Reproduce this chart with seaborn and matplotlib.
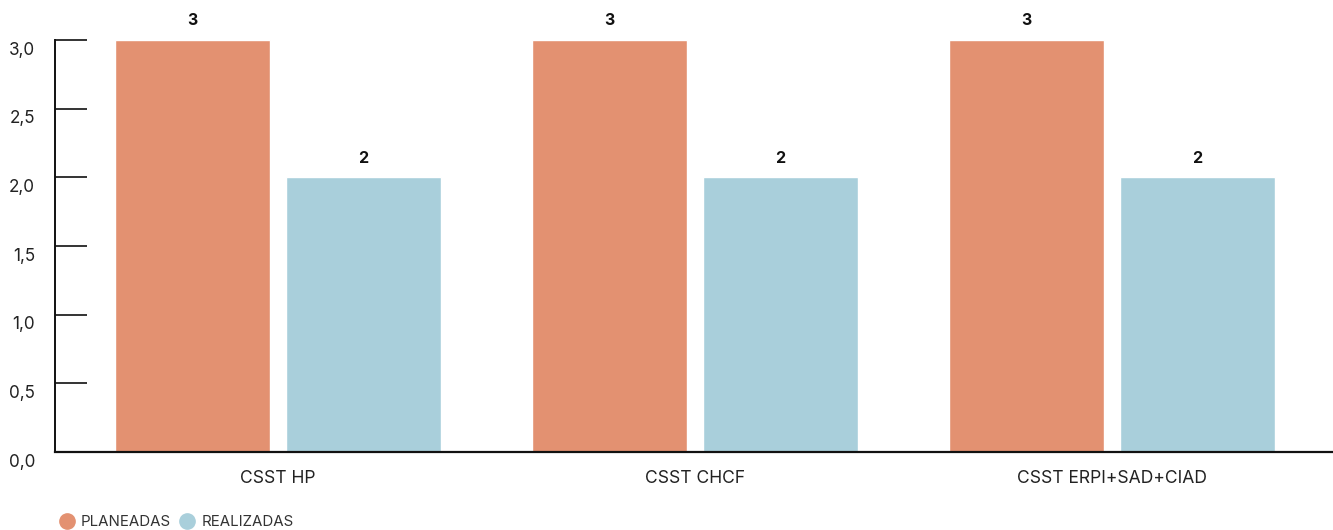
import matplotlib
matplotlib.use("Agg")
import matplotlib.pyplot as plt
import seaborn as sns
import pandas as pd
from matplotlib.lines import Line2D
import matplotlib.transforms as mtransforms

categories = ["CSST HP", "CSST CHCF", "CSST ERPI+SAD+CIAD"]
series_names = ["PLANEADAS", "REALIZADAS"]
planeadas = [3, 3, 3]
realizadas = [2, 2, 2]
y_ticks = [0.0, 0.5, 1.0, 1.5, 2.0, 2.5, 3.0]
y_tick_labels = ["0,0", "0,5", "1,0", "1,5", "2,0", "2,5", "3,0"]

colors = ["#E39171", "#A9CFDB"]

sns.set_theme(style="white")
plt.rcParams["font.family"] = ["Inter", "DejaVu Sans"]

df = pd.DataFrame({
    "cat": categories * 2,
    "serie": [series_names[0]] * 3 + [series_names[1]] * 3,
    "val": planeadas + realizadas,
})

W, H = 1333, 530
fig = plt.figure(figsize=(W / 100, H / 100), dpi=100)
ax = fig.add_axes([55 / W, (H - 452) / H, 1 - 55 / W, 452 / H])

sns.barplot(data=df, x="cat", y="val", hue="serie", palette=colors,
            width=0.82, gap=0.093, ax=ax, legend=False, saturation=1)

ax.set_xlim(-0.535, 2.530)
ax.set_ylim(0, 3 + 40 / 137.33)
ax.set_xlabel("")
ax.set_ylabel("")

for c in ax.containers:
    ax.bar_label(c, fmt="%d", padding=8.5, fontsize=11.5, fontweight="bold", color="#111111")

for s in ["top", "right"]:
    ax.spines[s].set_visible(False)
ax.spines["left"].set_bounds(0, 3)
ax.spines["left"].set_color("#111111")
ax.spines["bottom"].set_color("#111111")
ax.spines["left"].set_linewidth(1.4)
ax.spines["bottom"].set_linewidth(1.6)

ax.set_yticks(y_ticks)
ax.set_yticklabels(y_tick_labels)
ax.tick_params(axis="y", direction="in", length=23, width=1.2, color="#111111",
               pad=14.4, labelsize=12.3, labelcolor="#222222", left=True)
ax.tick_params(axis="x", length=0, pad=13, labelsize=12.6, labelcolor="#222222")

offset = mtransforms.ScaledTranslation(0, -8 / 100, fig.dpi_scale_trans)
for lab in ax.get_yticklabels():
    lab.set_transform(lab.get_transform() + offset)

handles = [Line2D([0], [0], marker="o", linestyle="", markersize=11,
                  markerfacecolor=col, markeredgecolor=col) for col in colors]
fig.legend(handles, series_names, loc="lower left", bbox_to_anchor=(44 / W, -13 / H),
           ncol=2, frameon=False, fontsize=10.8, handletextpad=0.35,
           columnspacing=0.5, handlelength=1.2, labelcolor="#333333")

fig.savefig("out.png", dpi=100)
